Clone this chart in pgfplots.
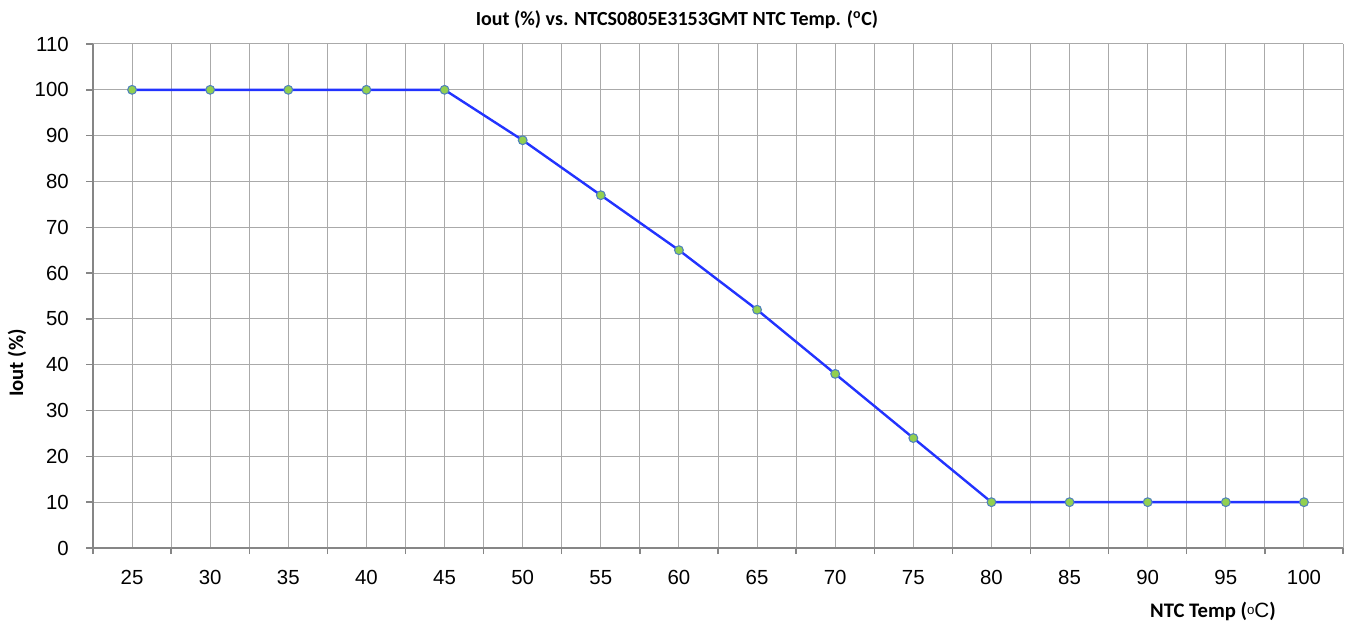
\documentclass[border=0pt]{standalone}
\usepackage{fontspec}
\setmainfont{Liberation Sans}
\newfontfamily\calibri{Carlito}
\usepackage{pgfplots}
\pgfplotsset{compat=1.18}
\definecolor{lineblue}{RGB}{34,51,255}
\definecolor{mkfill}{RGB}{146,208,80}
\definecolor{mkedge}{RGB}{79,129,189}
\definecolor{axgray}{RGB}{134,134,134}
\definecolor{gridgray}{RGB}{170,170,170}

\begin{document}
\begin{tikzpicture}
% 1px of the reference = 0.75pt; origin = lower left of the plot area
\useasboundingbox (-69.75pt,-54.75pt) rectangle (942pt,411pt);
\begin{axis}[
    at={(0,0)}, anchor=south west,
    scale only axis,
    width=937.5pt, height=378pt,
    xmin=-0.5, xmax=15.5,
    ymin=0, ymax=110,
    xtick={0,...,15},
    xticklabels={25,30,35,40,45,50,55,60,65,70,75,80,85,90,95,100},
    minor xtick={-0.5,0.5,...,15.5},
    ytick={0,10,...,110},
    axis x line*=bottom, axis y line*=left,
    axis line style={axgray, line width=1.1pt},
    xmajorgrids, xminorgrids, ymajorgrids,
    major grid style={gridgray, line width=0.75pt},
    minor grid style={gridgray, line width=0.75pt},
    tick align=outside,
    major tick length=5pt, minor tick length=4.5pt,
    tick style={axgray, line width=1.1pt},
    major x tick style={draw=none},
    /pgf/number format/assume math mode=true,
    tick label style={font=\fontsize{15.3}{18}\selectfont, black},
    xticklabel style={inner sep=0pt, anchor=north, yshift=-11.5pt},
    yticklabel style={inner sep=0pt, anchor=east, xshift=-13pt},
]
\addplot[lineblue, line width=1.8pt, mark=*, mark size=3.3pt,
         mark options={fill=mkfill, draw=mkedge, line width=0.8pt}]
  coordinates {
    (0,100) (1,100) (2,100) (3,100) (4,100) (5,89) (6,77) (7,65)
    (8,52) (9,38) (10,24) (11,10) (12,10) (13,10) (14,10) (15,10)
  };
\end{axis}
\node at (438pt,396pt) {\calibri\bfseries\fontsize{15}{18}\selectfont Iout (\%) vs. NTCS0805E3153GMT NTC Temp. (\textsuperscript{o}C)};
\node[rotate=90] at (-57pt,138.75pt) {\calibri\bfseries\fontsize{15.5}{18}\selectfont Iout (\%)};
\node at (840pt,-47.25pt) {{\calibri\bfseries\fontsize{15.5}{18}\selectfont NTC Temp (}{\fontsize{15.5}{18}\selectfont\raisebox{0.25ex}{\fontsize{10}{11}\selectfont o}C}{\calibri\bfseries\fontsize{15.5}{18}\selectfont )}};
\end{tikzpicture}
\end{document}
